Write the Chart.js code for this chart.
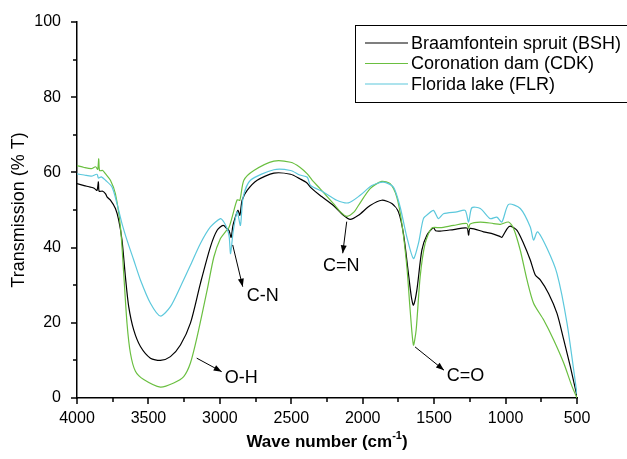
<!DOCTYPE html>
<html>
<head>
<meta charset="utf-8">
<script src="https://cdn.jsdelivr.net/npm/chart.js@4.4.0/dist/chart.umd.min.js"></script>
<style>
  html, body { margin: 0; padding: 0; background: #fff; }
  canvas { display: block; }
</style>
</head>
<body>
<canvas id="ftir-chart" width="627" height="459"></canvas>
<script>
// series labels
const seriesNames = ['Braamfontein spruit (BSH)', 'Coronation dam (CDK)', 'Florida lake (FLR)'];

// BSH
const waveBSH = [4000, 3950, 3907, 3880, 3860, 3850, 3845, 3820, 3800, 3790, 3766, 3731, 3708, 3685, 3661, 3638, 3603, 3556, 3486, 3416, 3346, 3276, 3206, 3136, 3066, 3019, 2977, 2949, 2935, 2921, 2910, 2902, 2874, 2860, 2844, 2809, 2739, 2622, 2505, 2440, 2390, 2365, 2300, 2205, 2135, 2088, 2030, 1948, 1867, 1796, 1750, 1715, 1680, 1660, 1645, 1621, 1586, 1551, 1505, 1490, 1458, 1364, 1271, 1259, 1248, 1154, 1084, 1040, 1026, 990, 967, 920, 874, 827, 792, 757, 699, 640, 593, 547, 500];
const transBSH = [57.0, 56.5, 56.1, 55.8, 55.2, 57.5, 55.0, 55.0, 54.3, 53.5, 52.6, 50.4, 47.3, 42.0, 32.2, 24.3, 18.1, 13.7, 10.6, 10.0, 11.0, 14.1, 19.9, 30.5, 40.2, 44.6, 45.9, 45.0, 44.5, 42.7, 45.5, 46.8, 49.9, 48.6, 52.6, 55.2, 57.9, 59.8, 59.5, 58.3, 57.2, 56.0, 53.9, 51.2, 48.6, 47.5, 48.6, 51.2, 52.6, 51.7, 49.5, 43.7, 33.1, 27.0, 24.7, 28.7, 39.3, 43.3, 45.3, 44.5, 44.4, 44.8, 45.2, 43.3, 45.1, 44.2, 43.6, 43.0, 42.7, 45.0, 45.7, 44.6, 41.1, 36.7, 32.7, 31.4, 27.8, 22.5, 15.5, 8.4, 0.5];

// CDK
const waveCDK = [4000, 3950, 3900, 3870, 3855, 3848, 3842, 3820, 3800, 3766, 3731, 3696, 3673, 3650, 3626, 3591, 3533, 3416, 3323, 3253, 3206, 3159, 3089, 3042, 2996, 2961, 2937, 2914, 2879, 2860, 2832, 2762, 2622, 2505, 2440, 2388, 2353, 2299, 2205, 2150, 2111, 2060, 2030, 1948, 1867, 1808, 1761, 1726, 1691, 1668, 1645, 1626, 1598, 1563, 1517, 1458, 1364, 1271, 1259, 1248, 1177, 1084, 1037, 979, 944, 897, 850, 804, 734, 664, 593, 535, 500];
const transCDK = [61.8, 61.3, 61.0, 61.5, 60.8, 63.6, 60.5, 60.5, 59.6, 57.9, 54.3, 45.5, 33.1, 19.9, 11.9, 7.1, 4.9, 2.9, 4.0, 5.7, 9.3, 16.3, 28.7, 37.5, 42.4, 44.2, 45.3, 48.1, 52.7, 52.6, 57.9, 60.5, 63.0, 62.7, 61.4, 59.6, 57.9, 55.7, 51.7, 49.3, 48.3, 49.5, 51.2, 55.7, 57.6, 57.0, 53.4, 46.4, 34.9, 23.4, 14.1, 18.1, 32.2, 41.1, 45.2, 45.3, 45.9, 46.4, 45.1, 46.3, 46.8, 46.4, 46.2, 46.8, 45.1, 39.3, 31.4, 25.2, 20.8, 15.5, 9.3, 3.1, 0.0];

// FLR
const waveFLR = [4000, 3950, 3900, 3860, 3850, 3830, 3800, 3755, 3720, 3685, 3650, 3603, 3556, 3486, 3416, 3346, 3276, 3206, 3136, 3066, 2996, 2972, 2949, 2935, 2925, 2907, 2879, 2856, 2837, 2786, 2622, 2505, 2440, 2388, 2365, 2276, 2182, 2100, 2018, 1936, 1855, 1785, 1738, 1691, 1645, 1610, 1575, 1540, 1505, 1470, 1435, 1341, 1283, 1259, 1236, 1177, 1107, 1061, 1026, 979, 897, 827, 804, 776, 710, 640, 570, 500];
const transFLR = [59.6, 59.3, 59.0, 59.5, 58.5, 58.8, 57.9, 56.1, 51.7, 46.4, 42.0, 36.7, 31.4, 25.2, 21.8, 24.3, 29.6, 35.3, 41.1, 45.5, 47.7, 46.8, 45.0, 43.0, 38.4, 44.2, 49.5, 45.9, 53.4, 57.9, 60.7, 60.5, 59.3, 58.7, 56.5, 54.8, 52.6, 51.9, 53.9, 56.5, 57.4, 56.1, 50.8, 42.8, 37.1, 41.1, 47.7, 49.0, 49.9, 47.7, 49.0, 49.5, 49.9, 46.8, 50.6, 50.4, 47.7, 48.1, 46.8, 51.5, 50.4, 45.5, 42.0, 44.2, 39.8, 33.1, 19.9, 1.0];

// band labels: text, arrow start (wave, %T), arrow end, text position
const bandNames = ['O-H', 'C-N', 'C=N', 'C=O'];
const bandArrows = [
    [3162, 10.6, 2987, 7.0],
    [2910, 40.7, 2840, 29.6],
    [2112, 46.9, 2140, 38.5],
    [1634, 13.6, 1431, 7.4]
];
const bandTextPos = [[2850, 5.3], [2700, 27.0], [2150, 35.0], [1280, 5.8]];

const colors = ['#000000', '#6abf40', '#5cc8dc'];
const FONT = '"Liberation Sans", Arial, sans-serif';

function toPoints(xs, ys) {
    return xs.map((x, i) => ({ x: x, y: ys[i] }));
}

// ticks, legend, axis titles and band labels
const extrasPlugin = {
    id: 'extras',
    afterDraw(chart) {
        const ctx = chart.ctx;
        const xs = chart.scales.x;
        const ys = chart.scales.y;
        const area = chart.chartArea;
        ctx.save();
        ctx.strokeStyle = '#000';
        ctx.lineWidth = 1.5;
        // x tick marks
        for (let w = 500; w <= 4000; w += 250) {
            const px = Math.round(xs.getPixelForValue(w));
            const len = w % 500 === 0 ? 6 : 4;
            ctx.beginPath();
            ctx.moveTo(px, area.bottom);
            ctx.lineTo(px, area.bottom + len);
            ctx.stroke();
        }
        // y tick marks
        for (let v = 0; v <= 100; v += 10) {
            const py = Math.round(ys.getPixelForValue(v));
            const len = v % 20 === 0 ? 6 : 4;
            ctx.beginPath();
            ctx.moveTo(area.left, py);
            ctx.lineTo(area.left - len, py);
            ctx.stroke();
        }

        // y title
        ctx.fillStyle = '#000';
        ctx.font = '18px ' + FONT;
        ctx.textAlign = 'center';
        ctx.textBaseline = 'middle';
        ctx.save();
        ctx.translate(19, (area.top + area.bottom) / 2);
        ctx.rotate(-Math.PI / 2);
        ctx.fillText('Transmission (% T)', 0, 0);
        ctx.restore();

        // x title with superscript
        const main = 'Wave number (cm';
        const sup = '-1';
        const close = ')';
        ctx.font = 'bold 17px ' + FONT;
        const wMain = ctx.measureText(main).width;
        const wClose = ctx.measureText(close).width;
        ctx.font = 'bold 11px ' + FONT;
        const wSup = ctx.measureText(sup).width;
        let tx = (area.left + area.right) / 2 - (wMain + wSup + wClose) / 2;
        const ty = 447;
        ctx.textAlign = 'left';
        ctx.textBaseline = 'alphabetic';
        ctx.font = 'bold 17px ' + FONT;
        ctx.fillText(main, tx, ty);
        tx += wMain;
        ctx.font = 'bold 11px ' + FONT;
        ctx.fillText(sup, tx, ty - 8);
        tx += wSup;
        ctx.font = 'bold 17px ' + FONT;
        ctx.fillText(close, tx, ty);

        // legend box
        ctx.lineWidth = 1;
        ctx.strokeRect(355.5, 25.5, 290, 77);
        ctx.font = '18px ' + FONT;
        ctx.textBaseline = 'middle';
        seriesNames.forEach((name, i) => {
            const ly = 43 + i * 20.5;
            ctx.strokeStyle = colors[i];
            ctx.lineWidth = 1.2;
            ctx.beginPath();
            ctx.moveTo(365, ly);
            ctx.lineTo(408, ly);
            ctx.stroke();
            ctx.fillStyle = '#000';
            ctx.fillText(name, 411, ly + 1);
        });

        // band annotations
        ctx.strokeStyle = '#000';
        ctx.fillStyle = '#000';
        ctx.lineWidth = 1;
        bandNames.forEach((name, i) => {
            const a = bandArrows[i];
            const x1 = xs.getPixelForValue(a[0]), y1 = ys.getPixelForValue(a[1]);
            const x2 = xs.getPixelForValue(a[2]), y2 = ys.getPixelForValue(a[3]);
            ctx.beginPath();
            ctx.moveTo(x1, y1);
            ctx.lineTo(x2, y2);
            ctx.stroke();
            const ang = Math.atan2(y2 - y1, x2 - x1);
            ctx.beginPath();
            ctx.moveTo(x2, y2);
            ctx.lineTo(x2 - 8 * Math.cos(ang) + 3 * Math.sin(ang), y2 - 8 * Math.sin(ang) - 3 * Math.cos(ang));
            ctx.lineTo(x2 - 8 * Math.cos(ang) - 3 * Math.sin(ang), y2 - 8 * Math.sin(ang) + 3 * Math.cos(ang));
            ctx.closePath();
            ctx.fill();
            ctx.font = '18px ' + FONT;
            ctx.textAlign = 'center';
            ctx.textBaseline = 'middle';
            ctx.fillText(name, xs.getPixelForValue(bandTextPos[i][0]), ys.getPixelForValue(bandTextPos[i][1]));
        });
        ctx.restore();
    }
};

// draw FLR first, BSH on top
const datasets = [
    { label: seriesNames[2], data: toPoints(waveFLR, transFLR), borderColor: colors[2] },
    { label: seriesNames[1], data: toPoints(waveCDK, transCDK), borderColor: colors[1] },
    { label: seriesNames[0], data: toPoints(waveBSH, transBSH), borderColor: colors[0] }
];
datasets.forEach(ds => {
    ds.borderWidth = 1.2;
    ds.pointRadius = 0;
    ds.tension = 0.25;
    ds.fill = false;
});

new Chart(document.getElementById('ftir-chart'), {
    type: 'line',
    data: { datasets: datasets },
    options: {
        responsive: false,
        animation: false,
        devicePixelRatio: 1,
        layout: { padding: { top: 22, right: 50, left: 0, bottom: 0 } },
        plugins: {
            legend: { display: false },
            tooltip: { enabled: false }
        },
        scales: {
            x: {
                type: 'linear',
                reverse: true,
                min: 500,
                max: 4000,
                afterFit: (s) => { s.height = 61; },
                grid: { display: false },
                border: { display: true, color: '#000', width: 1.5 },
                ticks: {
                    stepSize: 500,
                    autoSkip: false,
                    maxRotation: 0,
                    padding: 3,
                    color: '#000',
                    font: { family: FONT, size: 16 },
                    callback: (v) => String(v)
                }
            },
            y: {
                min: 0,
                max: 100,
                afterFit: (s) => { s.width = 77; },
                grid: { display: false },
                border: { display: true, color: '#000', width: 1.5 },
                ticks: {
                    stepSize: 20,
                    padding: 8,
                    color: '#000',
                    font: { family: FONT, size: 16 },
                    callback: (v) => String(v)
                }
            }
        }
    },
    plugins: [extrasPlugin]
});
</script>
</body>
</html>
